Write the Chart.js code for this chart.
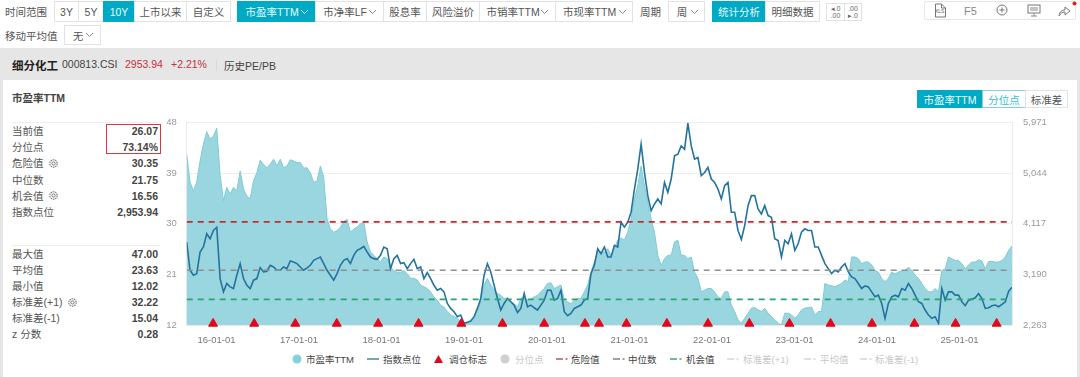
<!DOCTYPE html>
<html><head><meta charset="utf-8">
<script src="https://cdn.jsdelivr.net/npm/chart.js@4"></script>
<style>
html,body{margin:0;padding:0;background:#fff}
body{width:1080px;height:377px;overflow:hidden;position:relative;font-family:"Liberation Sans","Noto Sans CJK SC",sans-serif;color:#444}
.a{position:absolute;white-space:nowrap}
.b{position:absolute;box-sizing:border-box;border:1px solid #e2e2e2;display:flex;align-items:center;justify-content:center;font-size:10.5px;color:#555;background:#fff;white-space:nowrap}
.on{background:#00a9c4;border-color:#00a9c4;color:#e8fbff}
.lab{position:absolute;left:12px;font-size:10.5px;color:#555;line-height:14px;white-space:nowrap}
.val{position:absolute;right:922px;font-size:10.5px;font-weight:bold;color:#444;line-height:14px;white-space:nowrap}
.lg{position:absolute;top:353px;font-size:9.5px;line-height:13px;color:#444;white-space:nowrap}
.off{color:#c8c8c8}
canvas{position:absolute;left:150px;top:106px}
svg{position:absolute}
</style></head><body>
<div class="a" style="left:0;top:48px;width:1080px;height:32px;background:#e6e6e6"></div>
<div class="a" style="left:0;top:80px;width:3px;height:297px;background:#e6e6e6"></div>
<div class="a" style="left:1077px;top:80px;width:3px;height:297px;background:#e6e6e6"></div>
<div id="ui"></div>
<canvas id="c" width="910" height="246" style="width:910px;height:246px"></canvas>
<script>
const peValues=[42.4,37.4,35.9,37.4,41.2,44.2,46.4,45.1,45.6,47.0,38.6,34.1,36.5,35.3,36.5,35.9,39.4,36.2,35.0,34.4,37.7,39.1,41.3,40.6,40.0,40.6,41.5,40.3,41.5,40.0,40.3,41.4,41.2,40.9,40.9,39.9,40.0,39.1,37.4,37.6,40.3,38.3,30.9,29.1,28.5,28.8,29.4,30.4,30.8,28.5,29.1,29.4,30.0,30.3,26.8,25.0,24.4,23.8,23.2,24.1,23.8,22.3,21.7,21.4,21.4,21.7,21.1,20.3,20.3,20.0,19.1,18.8,18.5,17.9,17.0,16.4,15.5,15.2,14.4,13.8,13.5,13.2,12.6,12.3,12.3,12.6,13.2,14.4,16.1,
19.1,20.3,19.1,18.2,17.6,17.3,16.7,16.8,16.1,15.8,15.2,16.7,17.0,16.4,16.6,17.0,17.3,17.9,18.5,19.4,19.5,18.5,18.8,19.1,16.4,16.1,15.8,16.4,16.7,16.7,17.9,19.1,21.4,23.2,25.0,25.0,25.0,25.6,24.4,25.6,27.1,27.5,27.1,28.5,30.9,34.4,36.8,40.3,36.8,33.8,30.9,28.5,24.4,22.6,23.8,24.4,24.4,26.8,27.1,24.4,24.4,23.8,24.1,21.4,20.3,17.9,18.2,18.5,18.5,17.9,17.0,16.7,17.9,17.9,15.5,14.4,12.9,12.3,13.2,14.1,15.0,15.1,14.7,14.4,15.0,14.1,
13.5,12.9,12.3,12.0,14.1,14.1,13.8,13.2,13.8,14.7,15.0,15.1,15.2,13.8,14.4,14.4,19.4,19.1,19.0,18.8,19.1,19.4,20.0,19.7,24.1,24.1,23.8,22.9,23.2,23.2,22.7,21.7,21.4,20.3,19.7,20.3,21.4,21.1,21.4,21.7,21.7,22.3,21.7,20.9,20.3,19.4,18.5,17.9,17.9,18.5,17.9,21.7,22.0,24.1,23.8,23.5,23.5,22.9,22.0,22.7,23.2,23.2,23.6,23.4,22.0,23.3,23.3,23.2,23.2,23.5,24.1,25.3,26.07];
const indexValues=[3783,3266,3175,3205,3600,3692,3935,3844,3996,4056,3114,2871,3023,2962,2932,3175,3388,3114,2992,2932,3084,3114,3315,3236,3248,3357,3327,3266,3266,3327,3296,3436,3418,3388,3327,3266,3309,3357,3448,3479,3509,3388,3266,3175,3084,3205,3357,3448,3479,3388,3540,3631,3661,3704,3600,3509,3479,3467,3540,3692,3661,3296,3479,3540,3388,3406,3296,3388,3467,3296,3327,3114,3223,3114,2992,2901,2932,2871,2658,2567,2506,2415,2445,2293,2312,2336,2415,2567,2749,
3175,3388,3236,2992,2749,2537,2658,2749,2689,2628,2494,2567,2840,2597,2628,2579,2537,2628,2719,2901,2901,2719,2749,2901,2506,2433,2476,2567,2597,2628,2719,2749,3205,3357,3661,3570,3692,3509,3509,3722,3692,4147,4056,4147,4330,4755,5120,5576,5059,4634,4360,4482,4573,4482,4877,4695,4938,5363,5394,5546,5485,5959,5546,5303,5333,4999,5059,5151,4938,4877,4755,4573,4816,4877,4330,4330,3996,3831,4087,4451,4634,4634,4391,4299,4451,4269,
4239,3844,3813,3509,3813,3752,3935,3631,3752,3965,4026,3996,3996,3692,3692,3540,3388,3296,3205,3266,3236,3327,3388,3236,3144,3114,3023,2932,2980,2962,2871,2780,2810,2658,2385,2658,2780,2810,2780,2932,2901,3023,2932,2810,2689,2658,2537,2445,2385,2415,2293,2932,2719,2871,2871,2810,2810,2689,2616,2719,2737,2761,2840,2749,2567,2579,2616,2628,2597,2640,2689,2883,2953.94];
const rebalanceAt=[7.9,20.2,32.5,44.9,57.3,69.4,82.2,94.5,107,119.2,123.4,131.6,143.7,156,168.4,180.4,192.7,205.1,217.8,230.1,242.4];
const yearAt=[8.9,33.6,58.3,83.0,107.8,132.5,157.2,181.9,206.6,231.3];
const yearLabels=["16-01-01","17-01-01","18-01-01","19-01-01","20-01-01","21-01-01","22-01-01","23-01-01","24-01-01","25-01-01"];
const peTicks=[12,21,30,39,48];
const indexTicks=[2263,3190,4117,5044,5971];
const dangerValue=30.35,medianValue=21.75,chanceValue=16.56,lastIndex=peValues.length-1;
const statsTop=[["当前值","26.07"],["分位点","73.14%"],["危险值","30.35"],["中位数","21.75"],["机会值","16.56"],["指数点位","2,953.94"]];
const statsBottom=[["最大值","47.00"],["平均值","23.63"],["最小值","12.02"],["标准差(+1)","32.22"],["标准差(-1)","15.04"],["z 分数","0.28"]];
const chev=(x,y,c)=>`<svg style="left:${x}px;top:${y}px" width="9" height="6"><path d="M1 1l3.5 3.5L8 1" fill="none" stroke="${c||'#888'}" stroke-width="1"/></svg>`;
const gear=(x,y)=>`<svg style="left:${x}px;top:${y}px" width="9" height="9"><circle cx="4.5" cy="4.5" r="3.7" fill="none" stroke="#777" stroke-width="1.1" stroke-dasharray="1.6 .7"/><circle cx="4.5" cy="4.5" r="1.6" fill="none" stroke="#777"/></svg>`;
let h='';
const btn=(l,r,t,bt,s,on)=>{h+=`<div class="b${on?' on':''}" style="left:${l}px;top:${t}px;width:${r-l+1}px;height:${bt-t}px">${s}</div>`};
const txt=(x,y,s,st)=>{h+=`<div class="a" style="left:${x}px;top:${y}px;${st||'font-size:10.5px;color:#555'}">${s}</div>`};
txt(5,4,"时间范围");
[[54,78,"3Y"],[78,103,"5Y"],[103,134,"10Y",1],[134,186,"上市以来"],[186,230,"自定义"]].forEach(b=>btn(b[0],b[1],1,22,b[2],b[3]));
[[237,315,"市盈率TTM&nbsp;&nbsp;&nbsp;",1],[315,383,"市净率LF&nbsp;&nbsp;&nbsp;"],[383,426,"股息率"],[426,479,"风险溢价"],[479,555,"市销率TTM&nbsp;&nbsp;&nbsp;"],[555,632,"市现率TTM&nbsp;&nbsp;&nbsp;"]].forEach(b=>btn(b[0],b[1],1,22,b[2],b[3]));
h+=chev(300,9,'#e8fbff')+chev(368,9)+chev(540,9)+chev(618,9);
txt(640,4,"周期");btn(668,704,1,22,"周&nbsp;&nbsp;&nbsp;");h+=chev(690,9);
btn(712,765,1,22,"统计分析",1);btn(765,819,1,22,"明细数据");
btn(826,844,3,21,'<span style="font-size:7px;line-height:7px;text-align:center;color:#666">◂.0<br>.00</span>');
btn(844,861,3,21,'<span style="font-size:7px;line-height:7px;text-align:center;color:#666">.00<br>▸.0</span>');
h+=`<div class="a" style="left:924px;top:1px;width:152px;height:19px;box-sizing:border-box;border:1px solid #e6e6e6;border-radius:2px"></div>`;
txt(935,8,"XLS","font-size:5px;color:#666");
h+=`<svg style="left:933px;top:3px" width="14" height="15"><path d="M2.500 1h6l4 4v9h-10z M8.500 1v4h4" fill="none" stroke="#777"/></svg>`;
txt(964,5,"F5","font-size:11px;color:#888");
h+=`<svg style="left:996px;top:4px" width="12" height="12"><circle cx="6" cy="6" r="5" fill="none" stroke="#777"/><path d="M3.500 6h5M6 3.500v5" stroke="#777"/></svg>`;
h+=`<svg style="left:1027px;top:4px" width="14" height="13"><rect x="1" y="1" width="12" height="8" fill="none" stroke="#777"/><path d="M3 4h8M3 6h8M4 12h6M7 9v3" stroke="#888"/></svg>`;
h+=`<svg style="left:1058px;top:4px" width="13" height="13"><path d="M1 12c1-5 3-6 6-6V3l5 4-5 4V8c-3 0-4 1-6 4z" fill="none" stroke="#777"/></svg><svg style="left:1072px;top:1px" width="5" height="5"><circle cx="2.500" cy="2.500" r="2" fill="#e02020"/></svg>`;
txt(5,28,"移动平均值");btn(64,100,25,45,"无&nbsp;&nbsp;&nbsp;");h+=chev(85,32);
txt(12,57,"细分化工","font-size:11.500px;font-weight:bold;color:#222");
txt(62,58,"000813.CSI","font-size:10.5px;color:#444");
txt(125,58,"2953.94","font-size:10.5px;color:#c8303c");
txt(171,58,"+2.21%","font-size:10.5px;color:#c8303c");
h+=`<div class="a" style="left:216px;top:60px;width:1px;height:11px;background:#d8d8d8"></div>`;
txt(224,58,"历史PE/PB","font-size:10.5px;color:#444");
txt(12,90,"市盈率TTM","font-size:10.5px;font-weight:bold;color:#444");
btn(917,982,90,108,"市盈率TTM",1);
h+=`<div class="b" style="left:982px;top:90px;width:44px;height:18px;color:#35bcd0;border-color:#7dd3df">分位点</div>`;
btn(1025,1067,90,108,"标准差");
h+=`<div class="a" style="left:12px;top:122px;width:148px;height:1px;background:#eee"></div><div class="a" style="left:12px;top:245px;width:148px;height:1px;background:#eee"></div>`;
statsTop.forEach((r,i)=>{const y=124+i*16.2;h+=`<div class="lab" style="top:${y}px">${r[0]}</div><div class="val" style="top:${y}px">${r[1]}</div>`});
statsBottom.forEach((r,i)=>{const y=247+i*16;h+=`<div class="lab" style="top:${y}px">${r[0]}</div><div class="val" style="top:${y}px">${r[1]}</div>`});
h+=gear(49,159)+gear(49,191)+gear(68,298);
h+=`<div class="a" style="left:106px;top:124px;width:55px;height:30px;box-sizing:border-box;border:1.5px solid #d8393c"></div>`;
const dash=(x,c)=>`<svg style="left:${x}px;top:355px" width="13" height="8"><path d="M0 4h7" stroke="${c}" stroke-width="1.6"/><path d="M9.500 4h2" stroke="${c}" stroke-width="1.6"/></svg>`;
const lg=(x,s,off)=>`<div class="lg${off?' off':''}" style="left:${x}px">${s}</div>`;
h+=`<svg style="left:292px;top:354px" width="10" height="10"><circle cx="5" cy="5" r="4.500" fill="#85d0da"/></svg>`+lg(306,"市盈率TTM");
h+=`<svg style="left:367px;top:357px" width="12" height="4"><path d="M0 2h12" stroke="#4f8fa8" stroke-width="1.6"/></svg>`+lg(383,"指数点位");
h+=`<svg style="left:433px;top:354px" width="11" height="10"><path d="M5.500 1l4.500 8h-9z" fill="#e5061b"/></svg>`+lg(449,"调仓标志");
h+=`<svg style="left:500px;top:354px" width="10" height="10"><circle cx="5" cy="5" r="4.500" fill="#cfcfcf"/></svg>`+lg(515,"分位点",1);
h+=dash(556,'#c65a70')+lg(571,"危险值")+dash(613,'#8a8a8a')+lg(628,"中位数")+dash(670,'#4aa98a')+lg(686,"机会值");
h+=dash(727,'#d8d8d8')+lg(743,"标准差(+1)",1)+dash(804,'#d8d8d8')+lg(820,"平均值",1)+dash(860,'#d8d8d8')+lg(875,"标准差(-1)",1);
document.getElementById('ui').innerHTML=h;

const flat=v=>[{x:0,y:v},{x:lastIndex,y:v}];
const dashedSet=(v,c)=>({type:'line',data:flat(v),yAxisID:'y',borderColor:c,borderWidth:1.6,borderDash:[6,5],pointRadius:0,fill:false,order:2});
const fixTicks=vals=>s=>{s.ticks=vals.map(v=>({value:v}))};
new Chart(document.getElementById('c'),{
 type:'line',
 data:{datasets:[
  {data:peValues.map((y,x)=>({x,y})),yAxisID:'y',borderColor:'#7fcad5',borderWidth:1,backgroundColor:'rgba(143,210,220,0.9)',fill:'start',pointRadius:0,tension:0,order:4},
  {data:indexValues.map((y,x)=>({x,y})),yAxisID:'y2',borderColor:'#24739f',borderWidth:1.6,pointRadius:0,fill:false,tension:0,order:3},
  dashedSet(dangerValue,'#c92a2a'),dashedSet(medianValue,'#8d8d8d'),dashedSet(chanceValue,'#2aa56f'),
  {type:'scatter',data:rebalanceAt.map(x=>({x,y:12.25})),yAxisID:'y',pointStyle:'triangle',pointRadius:5.2,backgroundColor:'#e5061b',borderColor:'#e5061b',clip:false,order:1}
 ]},
 options:{responsive:false,animation:false,devicePixelRatio:1,
  layout:{padding:0},
  plugins:{legend:{display:false},tooltip:{enabled:false}},
  scales:{
   x:{type:'linear',min:0,max:lastIndex,position:'bottom',
      grid:{display:false},border:{color:'#eaeaea'},
      afterBuildTicks:s=>{s.ticks=yearAt.map(v=>({value:v}))},
      afterFit:s=>{s.height=27},
      ticks:{autoSkip:false,maxRotation:0,padding:2,color:'#777',font:{size:9.5,family:'"Liberation Sans"'},callback:(v,i)=>yearLabels[i]}},
   y:{type:'linear',position:'left',min:12,max:48,
      afterBuildTicks:fixTicks(peTicks),
      afterFit:s=>{s.width=36.7},
      grid:{color:'#eeeeee',drawTicks:false},border:{color:'#eaeaea'},
      ticks:{padding:10,color:'#999',font:{size:9.5,family:'"Liberation Sans"'},callback:v=>v}},
   y2:{type:'linear',position:'right',min:2263,max:5971,
      afterBuildTicks:fixTicks(indexTicks),
      afterFit:s=>{s.width=48},
      grid:{display:false,drawTicks:false},border:{color:'#eaeaea'},
      ticks:{padding:11,color:'#999',font:{size:9.5,family:'"Liberation Sans"'},callback:v=>v.toLocaleString('en-US')}}
  }
 }
});
</script>
</body></html>
